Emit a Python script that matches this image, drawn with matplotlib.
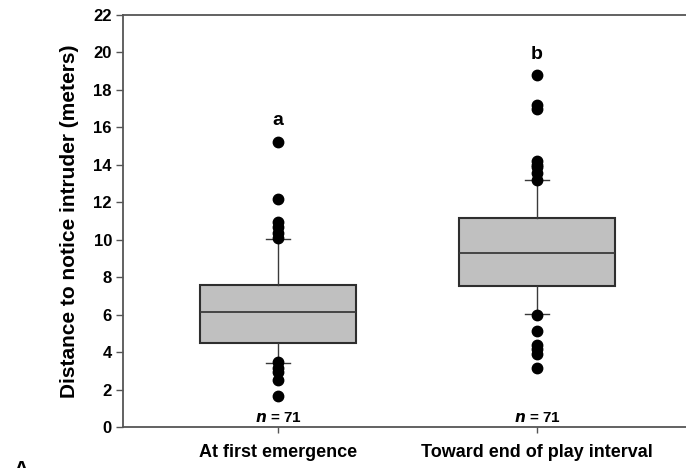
import matplotlib
matplotlib.use("Agg")
import matplotlib.pyplot as plt

plt.rcParams.update(
    {
        "font.family": ["Liberation Sans", "DejaVu Sans"],
        "font.weight": "bold",
        "axes.linewidth": 1.3,
        "axes.edgecolor": "#555555",
    }
)

# group labels and box summaries
groups = ["At first emergence", "Toward end of play interval"]
q1 = [4.49, 7.51]
medians = [6.11, 9.31]
q3 = [7.57, 11.17]
whisker_low = [3.40, 6.02]
whisker_high = [10.05, 13.16]
outliers = [
    [15.2, 12.18, 10.94, 10.67, 10.35, 10.1, 3.45, 3.13, 2.95, 2.5, 1.67],
    [18.8, 17.2, 16.95, 14.2, 14.0, 13.87, 13.55, 13.2, 6.0, 5.1, 4.4, 4.15, 3.9, 3.13],
]
letters = ["a", "b"]
letter_y = [16.35, 19.9]
sample_sizes = [71, 71]
yticks = list(range(0, 23, 2))

positions = [1, 2]
stats = [
    {
        "label": g,
        "med": m,
        "q1": lo,
        "q3": hi,
        "whislo": wl,
        "whishi": wh,
        "fliers": f,
    }
    for g, m, lo, hi, wl, wh, f in zip(groups, medians, q1, q3, whisker_low, whisker_high, outliers)
]

fig = plt.figure(figsize=(6.86, 4.68), dpi=100)
ax = fig.add_axes([0.1793, 0.0876, 0.8207, 0.881])

ax.bxp(
    stats,
    positions=positions,
    widths=0.6,
    capwidths=0.09,
    patch_artist=True,
    boxprops=dict(facecolor="#C0C0C0", edgecolor="#2e2e2e", linewidth=1.5),
    medianprops=dict(color="#3a3a3a", linewidth=1.3),
    whiskerprops=dict(color="#3a3a3a", linewidth=1.0),
    capprops=dict(color="#3a3a3a", linewidth=1.0),
    flierprops=dict(marker="o", markerfacecolor="black", markeredgecolor="black", markersize=7.5, linestyle="none"),
)

for x, lab, ly in zip(positions, letters, letter_y):
    ax.text(x, ly, lab, ha="center", va="center", fontsize=14, fontweight="bold")
for x, n in zip(positions, sample_sizes):
    ax.text(x, 0.1, rf"$\mathbfit{{n}}$ = {n}", ha="center", va="bottom", fontsize=11, fontweight="bold")

ax.set_xlim(0.402, 2.575)
ax.set_ylim(0, 22)
ax.set_yticks(yticks)
ax.set_xticks(positions)
ax.set_xticklabels(groups, fontsize=13, fontweight="bold")
ax.tick_params(axis="y", length=5, width=1.0, pad=3, labelsize=12, colors="#555555", labelcolor="black")
ax.tick_params(axis="x", length=4, width=1.0, pad=8, colors="#555555", labelcolor="black")
ax.spines["right"].set_visible(False)

ax.set_ylabel("Distance to notice intruder (meters)", fontsize=15, fontweight="bold", labelpad=10)

fig.text(0.03, 0.017, "A", fontsize=15, fontweight="bold", va="top", ha="center")

fig.savefig("out.png", dpi=100)
